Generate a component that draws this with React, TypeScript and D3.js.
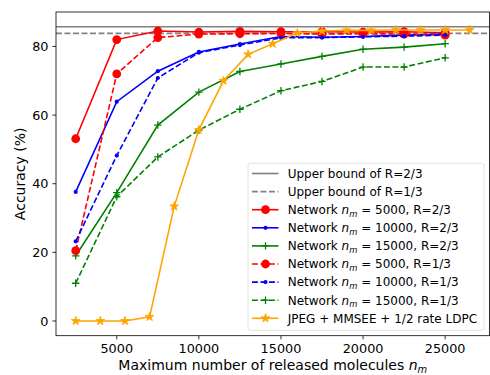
import React from 'react';
import * as d3 from 'd3';

// network sample points
const netX = [2500, 5000, 7500, 10000, 12500, 15000, 17500, 20000, 22500, 25000];
const red23 = [53.1, 82.0, 84.5, 84.2, 84.4, 84.3, 84.3, 84.2, 84.3, 84.0];
const blue23 = [37.6, 63.9, 72.8, 78.4, 80.7, 82.9, 82.7, 82.9, 83.3, 83.6];
const green23 = [19.0, 37.4, 57.1, 66.7, 72.7, 74.9, 77.1, 79.2, 79.8, 80.8];
const red13 = [20.5, 72.0, 82.6, 83.6, 83.7, 83.8, 83.6, 83.7, 83.6, 83.3];
const blue13 = [23.2, 48.2, 70.8, 78.2, 80.4, 82.5, 82.6, 82.8, 83.0, 83.3];
const green13 = [11.0, 36.2, 47.8, 55.6, 61.7, 67.1, 69.8, 74.0, 74.0, 76.7];

// baseline JPEG + MMSEE + LDPC
const jpegX = [2500, 4000, 5500, 7000, 8500, 10000, 11500, 13000, 14500, 16000, 17500, 19000, 20500, 22000, 23500, 25000, 26500];
const jpegY = [0, 0, 0, 1.2, 33.4, 55.7, 70.0, 77.7, 80.8, 83.9, 84.5, 84.7, 84.7, 84.8, 84.8, 84.8, 84.8];

const upper23 = 85.75;
const upper13 = 83.8;

const xTicks = [5000, 10000, 15000, 20000, 25000];
const yTicks = [0, 20, 40, 60, 80];

type Marker = 'o' | '.' | '+' | '*';
interface Series {
  xs: number[];
  ys: number[];
  color: string;
  dashed: boolean;
  marker: Marker;
  nm?: string;
  rate?: string;
}

const series: Series[] = [
  { xs: netX, ys: red23, color: '#ff0000', dashed: false, marker: 'o', nm: '5000', rate: '2/3' },
  { xs: netX, ys: blue23, color: '#0000ff', dashed: false, marker: '.', nm: '10000', rate: '2/3' },
  { xs: netX, ys: green23, color: '#008000', dashed: false, marker: '+', nm: '15000', rate: '2/3' },
  { xs: netX, ys: red13, color: '#ff0000', dashed: true, marker: 'o', nm: '5000', rate: '1/3' },
  { xs: netX, ys: blue13, color: '#0000ff', dashed: true, marker: '.', nm: '10000', rate: '1/3' },
  { xs: netX, ys: green13, color: '#008000', dashed: true, marker: '+', nm: '15000', rate: '1/3' },
  { xs: jpegX, ys: jpegY, color: '#ffa500', dashed: false, marker: '*' },
];

const W = 490;
const H = 375;
const plot = { left: 56, top: 12, right: 489.5, bottom: 335.7 };
const FONT = 'DejaVu Sans, sans-serif';
const DASH = '5.9,2.6';
const LW = 1.6;
const TICK_FS = 12.8;
const LEG_FS = 12;
const LABEL_FS = 14;

const x = d3.scaleLinear().domain([1300, 27700]).range([plot.left, plot.right]);
const y = d3.scaleLinear().domain([-4.29, 90.04]).range([plot.bottom, plot.top]);

const starPath = d3.symbol().type(d3.symbolStar).size(24)()!;

function MarkerShape({ m, cx, cy, color }: { m: Marker; cx: number; cy: number; color: string }) {
  if (m === 'o') return <circle cx={cx} cy={cy} r={4.4} fill={color} />;
  if (m === '.') return <circle cx={cx} cy={cy} r={2.1} fill={color} />;
  if (m === '+')
    return (
      <path d={`M${cx - 3.7},${cy}H${cx + 3.7}M${cx},${cy - 3.7}V${cy + 3.7}`} stroke={color} strokeWidth={1.3} />
    );
  return <path d={starPath} transform={`translate(${cx},${cy})`} fill={color} stroke={color} strokeWidth={0.8} />;
}

function NetLabel({ nm, rate }: { nm: string; rate: string }) {
  return (
    <>
      <tspan>Network </tspan>
      <tspan fontStyle="italic">n</tspan>
      <tspan fontStyle="italic" fontSize={LEG_FS * 0.7} dy={2.6}>m</tspan>
      <tspan dy={-2.6}>{` = ${nm}, R=${rate}`}</tspan>
    </>
  );
}

export default function App() {
  const line = d3.line<[number, number]>().x(d => x(d[0])).y(d => y(d[1]));

  const legendX = 248;
  const legendTop = 163.3;
  const rowH = 18.1;
  const firstRow = 173.5;

  return (
    <div style={{ position: 'fixed', left: 0, top: 0 }}>
      <svg width={W} height={H} style={{ display: 'block', fontFamily: FONT }}>
        <rect width={W} height={H} fill="#fff" />
        <defs>
          <clipPath id="plotClip">
            <rect x={plot.left} y={plot.top} width={plot.right - plot.left} height={plot.bottom - plot.top} />
          </clipPath>
        </defs>

        {/* upper bounds */}
        <line x1={plot.left} x2={plot.right} y1={y(upper23)} y2={y(upper23)} stroke="#808080" strokeWidth={LW} />
        <line x1={plot.left} x2={plot.right} y1={y(upper13)} y2={y(upper13)} stroke="#808080" strokeWidth={LW} strokeDasharray={DASH} />

        <g clipPath="url(#plotClip)">
          {series.map((s, i) => (
            <g key={i}>
              <path
                d={line(s.xs.map((v, j) => [v, s.ys[j]] as [number, number]))!}
                fill="none"
                stroke={s.color}
                strokeWidth={LW}
                strokeDasharray={s.dashed ? DASH : undefined}
              />
              {s.xs.map((v, j) => (
                <MarkerShape key={j} m={s.marker} cx={x(v)} cy={y(s.ys[j])} color={s.color} />
              ))}
            </g>
          ))}
        </g>

        {/* axes frame */}
        <rect
          x={plot.left}
          y={plot.top}
          width={plot.right - plot.left}
          height={plot.bottom - plot.top}
          fill="none"
          stroke="#000"
          strokeWidth={0.8}
        />

        {xTicks.map(t => (
          <g key={t} transform={`translate(${x(t)},${plot.bottom})`}>
            <line y2={3.7} stroke="#000" strokeWidth={0.8} />
            <text y={17.5} textAnchor="middle" fontSize={TICK_FS} fill="#000">{t}</text>
          </g>
        ))}
        {yTicks.map(t => (
          <g key={t} transform={`translate(${plot.left},${y(t)})`}>
            <line x2={-3.7} stroke="#000" strokeWidth={0.8} />
            <text x={-7.5} dy="0.36em" textAnchor="end" fontSize={TICK_FS} fill="#000">{t}</text>
          </g>
        ))}

        <text x={(plot.left + plot.right) / 2} y={369.5} textAnchor="middle" fontSize={LABEL_FS} fill="#000">
          Maximum number of released molecules <tspan fontStyle="italic">n</tspan>
          <tspan fontStyle="italic" fontSize={LABEL_FS * 0.7} dy={3}>m</tspan>
        </text>
        <text
          transform={`translate(${25},${(plot.top + plot.bottom) / 2}) rotate(-90)`}
          textAnchor="middle"
          fontSize={LABEL_FS}
          fill="#000"
        >
          Accuracy (%)
        </text>

        {/* legend */}
        <g>
          <rect
            x={legendX}
            y={legendTop}
            width={236}
            height={167}
            rx={2.5}
            fill="#fff"
            fillOpacity={0.8}
            stroke="#d9d9d9"
            strokeWidth={0.8}
          />
          {[
            { color: '#808080', dashed: false, label: 'Upper bound of R=2/3' },
            { color: '#808080', dashed: true, label: 'Upper bound of R=1/3' },
          ].map((r, i) => {
            const cy = firstRow + i * rowH;
            return (
              <g key={'ub' + i}>
                <line x1={legendX + 4} x2={legendX + 30.5} y1={cy} y2={cy} stroke={r.color} strokeWidth={LW}
                  strokeDasharray={r.dashed ? DASH : undefined} />
                <text x={legendX + 39.7} y={cy} dy="0.36em" fontSize={LEG_FS} fill="#000">{r.label}</text>
              </g>
            );
          })}
          {series.map((s, i) => {
            const cy = firstRow + (i + 2) * rowH;
            return (
              <g key={'s' + i}>
                <line x1={legendX + 4} x2={legendX + 30.5} y1={cy} y2={cy} stroke={s.color} strokeWidth={LW}
                  strokeDasharray={s.dashed ? DASH : undefined} />
                <MarkerShape m={s.marker} cx={legendX + 17.5} cy={cy} color={s.color} />
                <text x={legendX + 39.7} y={cy} dy="0.36em" fontSize={LEG_FS} fill="#000">
                  {s.nm ? <NetLabel nm={s.nm} rate={s.rate!} /> : 'JPEG + MMSEE + 1/2 rate LDPC'}
                </text>
              </g>
            );
          })}
        </g>
      </svg>
    </div>
  );
}
